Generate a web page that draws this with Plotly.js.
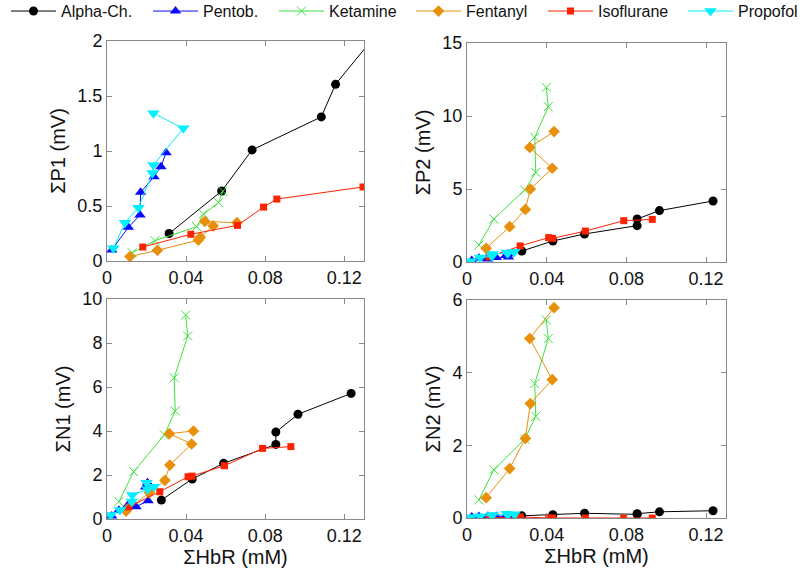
<!DOCTYPE html>
<html>
<head>
<meta charset="utf-8">
<script src="https://cdn.plot.ly/plotly-3.0.1.min.js"></script>
<style>html,body{margin:0;padding:0;background:#fff;}#chart{width:800px;height:586px;}</style>
</head>
<body>
<div id="chart"></div>
<script>
// ---- Data ----
var drugNames = ["Alpha-Ch.", "Pentob.", "Ketamine", "Fentanyl", "Isoflurane", "Propofol"];
var panelTitles = ["ΣP1 (mV)", "ΣP2 (mV)", "ΣN1 (mV)", "ΣN2 (mV)"];
var xTitle = "ΣHbR (mM)";

// Panel P1 has its own HbR values
var alphaX_P1 = [0.0314, 0.058, 0.0734, 0.1084, 0.1156, 0.1335];
var alphaP1   = [0.25, 0.636, 1.01, 1.31, 1.606, 2.0];
var pentX_P1  = [0.0024, 0.0108, 0.0167, 0.017, 0.0238, 0.0273, 0.0299];
var pentP1    = [0.10, 0.306, 0.418, 0.624, 0.767, 0.857, 0.985];
var ketX_P1   = [0.0127, 0.0243, 0.0454, 0.0488, 0.0564, 0.0586];
var ketP1     = [0.075, 0.185, 0.312, 0.427, 0.53, 0.634];
var fenX_P1   = [0.0116, 0.0255, 0.0462, 0.0472, 0.0537, 0.0495, 0.0657];
var fenP1     = [0.04, 0.097, 0.19, 0.215, 0.32, 0.36, 0.348];
var isoX_P1   = [0.0181, 0.0424, 0.066, 0.0792, 0.0859, 0.1295];
var isoP1     = [0.127, 0.243, 0.324, 0.49, 0.563, 0.673];
var propX_P1  = [0.0032, 0.0091, 0.0159, 0.023, 0.0235, 0.0386, 0.0235];
var propP1    = [0.115, 0.348, 0.485, 0.80, 0.873, 1.206, 1.343];

// Panels P2, N1, N2 share HbR values
var alphaX = [0.0275, 0.0431, 0.059, 0.0854, 0.0854, 0.0966, 0.1235];
var alphaP2 = [0.75, 1.44, 1.92, 2.49, 2.95, 3.52, 4.18];
var alphaN1 = [0.86, 1.82, 2.53, 3.39, 3.95, 4.76, 5.71];
var alphaN2 = [0.06, 0.09, 0.13, 0.10, 0.12, 0.17, 0.20];

var pentX  = [0.0024, 0.006, 0.0105, 0.0147, 0.0208, 0.0195, 0.0205];
var pentP2 = [0.10, 0.25, 0.20, 0.30, 0.35, 0.45, 0.55];
var pentN1 = [0.14, 0.40, 0.62, 0.56, 0.83, 1.45, 1.65];
var pentN2 = [0.03, 0.04, 0.05, 0.04, 0.05, 0.06, 0.07];

var ketX  = [0.006, 0.0135, 0.029, 0.0345, 0.034, 0.0408, 0.0398];
var ketP2 = [1.16, 2.95, 4.93, 6.14, 8.54, 10.64, 11.96];
var ketN1 = [0.79, 2.15, 3.82, 4.91, 6.42, 8.32, 9.27];
var ketN2 = [0.50, 1.33, 2.17, 2.80, 3.70, 4.94, 5.45];

var fenX  = [0.0096, 0.0214, 0.0293, 0.0318, 0.0428, 0.0315, 0.0437];
var fenP2 = [0.94, 2.42, 3.60, 5.00, 6.42, 7.85, 8.93];
var fenN1 = [0.36, 1.20, 1.76, 2.45, 3.41, 3.88, 4.00];
var fenN2 = [0.56, 1.36, 2.19, 3.15, 3.81, 4.94, 5.79];

var isoX  = [0.011, 0.0267, 0.041, 0.043, 0.0594, 0.0787, 0.093];
var isoP2 = [0.35, 1.10, 1.67, 1.62, 2.12, 2.83, 2.92];
var isoN1 = [0.55, 1.24, 1.92, 1.95, 2.42, 3.21, 3.29];
var isoN2 = [0.01, 0.03, 0.0, 0.0, 0.0, 0.0, 0.0];

var propX  = [0.0019, 0.0066, 0.0125, 0.0128, 0.0205, 0.0238, 0.0200];
var propP2 = [0.05, 0.30, 0.40, 0.55, 0.60, 0.70, 0.65];
var propN1 = [0.18, 0.41, 0.79, 1.09, 1.35, 1.47, 1.65];
var propN2 = [0.02, 0.05, 0.07, 0.08, 0.09, 0.10, 0.12];

// ---- Styles ----
var styles = [
  {color: "#000000", symbol: "circle", size: 9},
  {color: "#0a0aff", symbol: "triangle-up", size: 10},
  {color: "#3fe03f", symbol: "x-thin-open", size: 9},
  {color: "#e8900c", symbol: "diamond", size: 9},
  {color: "#ff2200", symbol: "square", size: 7},
  {color: "#00f0ff", symbol: "triangle-down", size: 11}
];
// left pixel of each legend entry (one small legend per drug)
var legendLeft = [6, 148, 274, 411, 543, 683];
var legendIds = ["legend", "legend2", "legend3", "legend4", "legend5", "legend6"];

var panels = [
  {xa: "x", ya: "y", xs: [alphaX_P1, pentX_P1, ketX_P1, fenX_P1, isoX_P1, propX_P1], ys: [alphaP1, pentP1, ketP1, fenP1, isoP1, propP1]},
  {xa: "x2", ya: "y2", xs: [alphaX, pentX, ketX, fenX, isoX, propX], ys: [alphaP2, pentP2, ketP2, fenP2, isoP2, propP2]},
  {xa: "x3", ya: "y3", xs: [alphaX, pentX, ketX, fenX, isoX, propX], ys: [alphaN1, pentN1, ketN1, fenN1, isoN1, propN1]},
  {xa: "x4", ya: "y4", xs: [alphaX, pentX, ketX, fenX, isoX, propX], ys: [alphaN2, pentN2, ketN2, fenN2, isoN2, propN2]}
];

var traces = [];
panels.forEach(function(p, pi) {
  for (var d = 0; d < drugNames.length; d++) {
    var s = styles[d];
    traces.push({
      type: "scatter", mode: "lines+markers",
      x: p.xs[d], y: p.ys[d],
      xaxis: p.xa, yaxis: p.ya,
      name: drugNames[d], legendgroup: drugNames[d], showlegend: pi === 0,
      legend: legendIds[d],
      line: {color: s.color, width: 1},
      marker: {color: s.color, symbol: s.symbol, size: s.size,
               line: {color: s.color, width: s.symbol === "x-thin-open" ? 1 : 0}}
    });
  }
});

var W = 800, H = 586;
function dx(a, b) { return [a / W, b / W]; }
function dy(top, bot) { return [1 - bot / H, 1 - top / H]; }

var tickFont = {family: "Liberation Sans, Arial, sans-serif", size: 18, color: "#111"};
var titleFont = {family: "Liberation Sans, Arial, sans-serif", size: 20, color: "#111"};
function xAxis(dom, anchor, showTitle) {
  var a = {domain: dom, anchor: anchor, range: [0, 0.13], dtick: 0.04, tick0: 0,
    showline: true, linecolor: "#888", linewidth: 1, mirror: "ticks",
    ticks: "inside", ticklen: 5, tickcolor: "#888", showgrid: false, zeroline: false,
    automargin: false, tickfont: tickFont};
  if (showTitle) a.title = {text: xTitle, font: titleFont, standoff: 0};
  return a;
}
function yAxis(dom, anchor, rng, dt, title) {
  return {domain: dom, anchor: anchor, range: rng, dtick: dt, tick0: 0,
    showline: true, linecolor: "#888", linewidth: 1, mirror: "ticks",
    ticks: "inside", ticklen: 5, tickcolor: "#888", showgrid: false, zeroline: false,
    automargin: false, tickfont: tickFont, title: {text: title, font: titleFont, standoff: 6}};
}

var layout = {
  width: W, height: H,
  margin: {l: 0, r: 0, t: 0, b: 0, autoexpand: false},
  paper_bgcolor: "#fff", plot_bgcolor: "#fff",
  showlegend: true,
  xaxis:  xAxis(dx(107, 364), "y", false),
  yaxis:  yAxis(dy(41, 261), "x", [0, 2], 0.5, panelTitles[0]),
  xaxis2: xAxis(dx(467, 726), "y2", false),
  yaxis2: yAxis(dy(43, 262), "x2", [0, 15], 5, panelTitles[1]),
  xaxis3: xAxis(dx(107, 364), "y3", true),
  yaxis3: yAxis(dy(299, 519), "x3", [0, 10], 2, panelTitles[2]),
  xaxis4: xAxis(dx(467, 726), "y4", true),
  yaxis4: yAxis(dy(300, 518), "x4", [0, 6], 2, panelTitles[3])
};
legendIds.forEach(function(id, i) {
  layout[id] = {orientation: "h", x: legendLeft[i] / W, y: 1.01, xanchor: "left", yanchor: "top",
    font: {family: "Liberation Sans, Arial, sans-serif", size: 16, color: "#111"},
    itemwidth: 45, bgcolor: "rgba(0,0,0,0)"};
});

Plotly.newPlot("chart", traces, layout, {displayModeBar: false, staticPlot: true});
</script>
</body>
</html>
